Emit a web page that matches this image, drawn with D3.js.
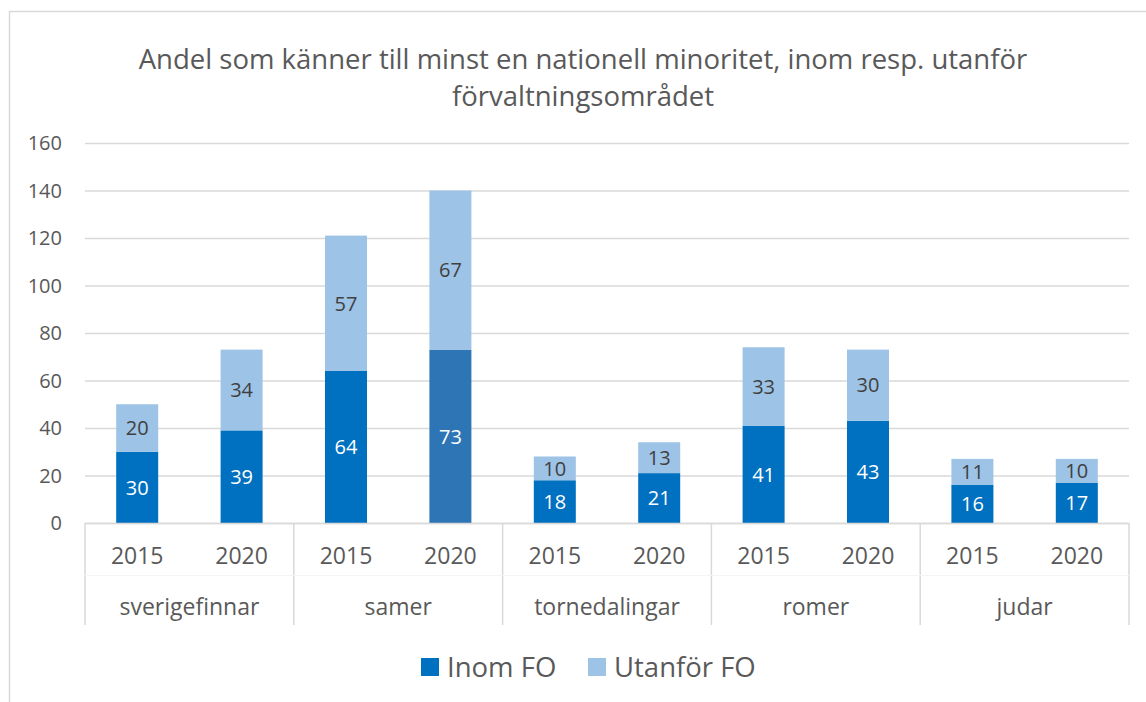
<!DOCTYPE html>
<html>
<head>
<meta charset="utf-8">
<script src="https://d3js.org/d3.v7.min.js"></script>
<style>
  body { margin: 0; background: #fff; }
  text { font-family: "Open Sans", "Noto Sans", sans-serif; }
</style>
</head>
<body>
<script>
// data
const groups = ["sverigefinnar", "samer", "tornedalingar", "romer", "judar"];
const years = ["2015", "2020"];
const inomFO = [30, 39, 64, 73, 18, 21, 41, 43, 16, 17];
const utanforFO = [20, 34, 57, 67, 10, 13, 33, 30, 11, 10];
const seriesNames = ["Inom FO", "Utanför FO"];
const yTicks = [0, 20, 40, 60, 80, 100, 120, 140, 160];

const W = 1146, H = 702;
const plotLeft = 85, plotRight = 1129, plotTop = 143, plotBottom = 523;

const svg = d3.select("body").append("svg")
    .attr("width", W).attr("height", H);

svg.append("rect")
    .attr("x", 9.5).attr("y", 11.5)
    .attr("width", W + 10).attr("height", H + 10)
    .attr("fill", "none").attr("stroke", "#d9d9d9").attr("stroke-width", 1.5);

// title, two lines
const titleLines = ["Andel som känner till minst en nationell minoritet, inom resp. utanför",
                    "förvaltningsområdet"];
svg.append("g").selectAll("text").data(titleLines).join("text")
    .attr("x", 583).attr("y", (d, i) => 69 + i * 37)
    .attr("text-anchor", "middle")
    .attr("fill", "#595959")
    .style("font-size", "27.5px")
    .text(d => d);

const rows = [];
groups.forEach((g, gi) => years.forEach((yr, yi) => {
    const i = gi * 2 + yi;
    rows.push({ key: g + "-" + yr, group: g, year: yr, inom: inomFO[i], ut: utanforFO[i] });
}));

const x = d3.scaleBand().domain(rows.map(d => d.key)).range([plotLeft, plotRight]).padding(0);
const y = d3.scaleLinear().domain([0, 160]).range([plotBottom, plotTop]);

// gridlines
svg.append("g").selectAll("line").data(yTicks).join("line")
    .attr("x1", plotLeft).attr("x2", plotRight)
    .attr("y1", d => y(d) + 0.5).attr("y2", d => y(d) + 0.5)
    .attr("stroke", "#d9d9d9").attr("stroke-width", 1.5);

// y axis labels
svg.append("g").selectAll("text").data(yTicks).join("text")
    .attr("x", 62).attr("y", d => y(d))
    .attr("dy", "0.35em")
    .attr("text-anchor", "end")
    .attr("fill", "#595959")
    .style("font-size", "20px")
    .text(d => d);

const stack = d3.stack().keys(["inom", "ut"])(rows);
const colors = ["#0070c0", "#9dc3e6"];
const bw = 42;

stack.forEach((layer, li) => {
    const g = svg.append("g");
    g.selectAll("rect").data(layer).join("rect")
        .attr("x", d => x(d.data.key) + x.bandwidth() / 2 - bw / 2)
        .attr("width", bw)
        .attr("y", d => y(d[1]))
        .attr("height", d => y(d[0]) - y(d[1]))
        .attr("fill", d => (li === 0 && d.data.key === "samer-2020") ? "#2e75b6" : colors[li]);
    g.selectAll("text").data(layer).join("text")
        .attr("x", d => x(d.data.key) + x.bandwidth() / 2)
        .attr("y", d => (y(d[0]) + y(d[1])) / 2)
        .attr("dy", "0.36em")
        .attr("text-anchor", "middle")
        .attr("fill", li === 0 ? "#ffffff" : "#404040")
        .style("font-size", "20px")
        .text(d => d[1] - d[0]);
});

// category axis
svg.append("line")
    .attr("x1", plotLeft).attr("x2", plotRight)
    .attr("y1", plotBottom + 0.5).attr("y2", plotBottom + 0.5)
    .attr("stroke", "#d9d9d9").attr("stroke-width", 1.5);

const groupW = (plotRight - plotLeft) / groups.length;
const seps = d3.range(groups.length + 1).map(i => plotLeft + i * groupW);
svg.append("g").selectAll("line").data(seps).join("line")
    .attr("x1", d => d).attr("x2", d => d)
    .attr("y1", plotBottom).attr("y2", 625)
    .attr("stroke", "#d9d9d9").attr("stroke-width", 1.5);

svg.append("line")
    .attr("x1", plotLeft).attr("x2", plotRight)
    .attr("y1", 575.5).attr("y2", 575.5)
    .attr("stroke", "#f4f4f4").attr("stroke-width", 1);

svg.append("g").selectAll("text").data(rows).join("text")
    .attr("x", d => x(d.key) + x.bandwidth() / 2)
    .attr("y", 556).attr("dy", "0.35em")
    .attr("text-anchor", "middle")
    .attr("fill", "#595959")
    .style("font-size", "23px")
    .text(d => d.year);

svg.append("g").selectAll("text").data(groups).join("text")
    .attr("x", (d, i) => plotLeft + (i + 0.5) * groupW)
    .attr("y", 607).attr("dy", "0.35em")
    .attr("text-anchor", "middle")
    .attr("fill", "#595959")
    .style("font-size", "23px")
    .text(d => d);

// legend
const legX = [421, 588];
const leg = svg.append("g").selectAll("g").data(seriesNames).join("g")
    .attr("transform", (d, i) => `translate(${legX[i]},658)`);
leg.append("rect").attr("width", 18).attr("height", 18)
    .attr("fill", (d, i) => colors[i]);
leg.append("text").attr("x", 26).attr("y", 9).attr("dy", "0.36em")
    .attr("fill", "#595959")
    .style("font-size", "27.5px")
    .text(d => d);
</script>
</body>
</html>
